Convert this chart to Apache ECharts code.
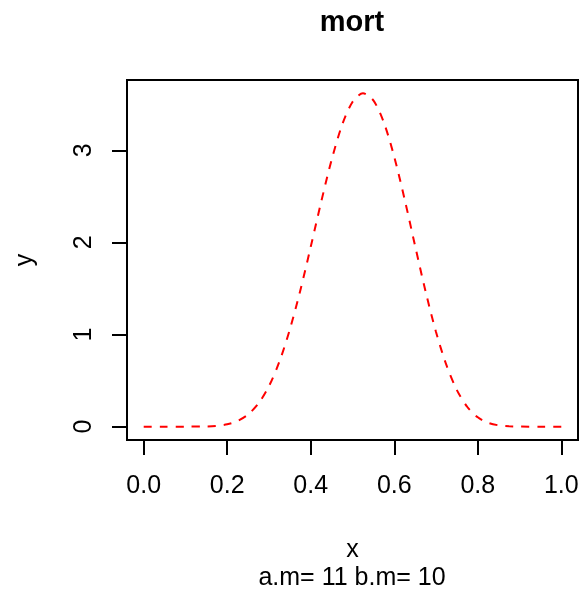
<!DOCTYPE html>
<html lang="en">
  <head>
    <meta charset="UTF-8" />
    <script src="https://cdn.jsdelivr.net/npm/echarts@6/dist/echarts.min.js"></script>
    <title>mort</title>
    <style>
      html, body { margin: 0; padding: 0; background: #fff; }
    </style>
  </head>
  <body>
    <div id="app" style="width: 587px; height: 595px"></div>

    <script>
      // beta density curve
      const xs = [0, 0.05, 0.1, 0.15, 0.175, 0.2, 0.225, 0.25, 0.275, 0.3, 0.325, 0.35, 0.375,
        0.4, 0.425, 0.45, 0.475, 0.5, 0.525, 0.55, 0.575, 0.6, 0.625, 0.65, 0.675, 0.7,
        0.725, 0.75, 0.775, 0.8, 0.825, 0.85, 0.875, 0.9, 0.95, 1];
      const ys = [0, 0, 0.0001, 0.0025, 0.0088, 0.0254, 0.062, 0.1323, 0.2529, 0.4402, 0.7066,
        1.0556, 1.4786, 1.9524, 2.4405, 2.8967, 3.2733, 3.5239, 3.618, 3.5412, 3.302, 2.9285,
        2.4643, 1.9604, 1.4676, 1.0273, 0.6668, 0.3969, 0.2134, 0.1016, 0.0415, 0.014, 0.0036,
        0.0006, 0, 0];
      const xTicks = [0, 0.2, 0.4, 0.6, 0.8, 1.0];
      const yTicks = [0, 1, 2, 3];

      const font = "Liberation Sans, Arial, sans-serif";
      const chart = echarts.init(document.getElementById("app"));

      chart.setOption({
        backgroundColor: "#fff",
        animation: false,
        title: [
          {
            text: "mort",
            left: 352,
            top: 8,
            padding: 0,
            textAlign: "center",
            textStyle: { fontFamily: font, fontSize: 29, fontWeight: "bold", color: "#000" },
          },
          {
            text: "a.m= 11 b.m= 10",
            left: 352,
            top: 566,
            padding: 0,
            textAlign: "center",
            textStyle: { fontFamily: font, fontSize: 25, fontWeight: "normal", color: "#000" },
          },
        ],
        grid: {
          left: 127,
          right: 9,
          top: 80,
          bottom: 155,
          show: true,
          borderColor: "#000",
          borderWidth: 2,
        },
        xAxis: {
          type: "value",
          min: -0.04,
          max: 1.04,
          name: "x",
          nameLocation: "middle",
          nameGap: 98,
          nameTextStyle: { fontFamily: font, fontSize: 25, color: "#000" },
          axisLine: { show: false, onZero: false },
          splitLine: { show: false },
          axisTick: {
            show: true,
            length: 15,
            customValues: xTicks,
            lineStyle: { color: "#000", width: 2 },
          },
          axisLabel: {
            customValues: xTicks,
            margin: 34,
            fontFamily: font,
            fontSize: 25,
            color: "#000",
            formatter: (v) => v.toFixed(1),
          },
        },
        yAxis: {
          type: "value",
          min: -0.145,
          max: 3.763,
          name: "y",
          nameLocation: "middle",
          nameGap: 89,
          nameRotate: 90,
          nameTextStyle: { fontFamily: font, fontSize: 25, color: "#000" },
          axisLine: { show: false, onZero: false },
          splitLine: { show: false },
          axisTick: {
            show: true,
            length: 15,
            customValues: yTicks,
            lineStyle: { color: "#000", width: 2 },
          },
          axisLabel: {
            customValues: yTicks,
            rotate: 90,
            margin: 30,
            fontFamily: font,
            fontSize: 25,
            color: "#000",
          },
        },
        series: [
          {
            type: "line",
            data: xs.map((x, i) => [x, ys[i]]),
            smooth: 0.3,
            showSymbol: false,
            lineStyle: { color: "#ff0000", width: 2, type: [8, 8] },
          },
        ],
      });
    </script>
  </body>
</html>
